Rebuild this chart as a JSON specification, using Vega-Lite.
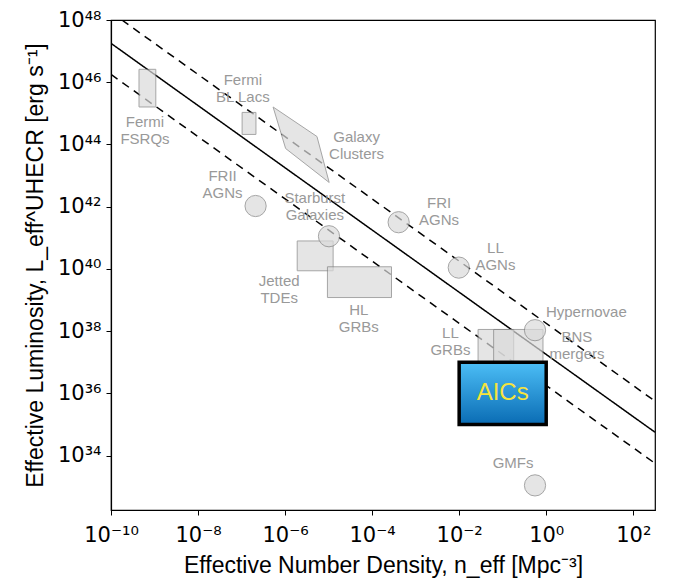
{
  "$schema": "https://vega.github.io/schema/vega-lite/v6.json",
  "autosize": {"type": "none"},
  "padding": {"left": 111, "top": 20, "right": 24, "bottom": 74},
  "width": 544,
  "height": 490,
  "background": "white",
  "config": {
    "view": {"stroke": "black", "strokeWidth": 1.2},
    "axis": {
      "grid": false,
      "domainColor": "black",
      "domainWidth": 1.2,
      "tickColor": "black",
      "tickSize": 5,
      "tickWidth": 1,
      "labelFont": "DejaVu Sans",
      "labelFontSize": 21,
      "labelColor": "black",
      "titleFont": "Liberation Sans",
      "titleFontSize": 23,
      "titleFontWeight": "normal",
      "titleColor": "black"
    }
  },
  "datasets": {
    "lines": [
      {"id": "s", "style": "solid", "x": 1e-10, "y": 1.778e47},
      {"id": "s", "style": "solid", "x": 316.23, "y": 5.623e34},
      {"id": "u", "style": "dashed", "x": 1.778e-10, "y": 1e48},
      {"id": "u", "style": "dashed", "x": 316.23, "y": 5.623e35},
      {"id": "l", "style": "dashed", "x": 1e-10, "y": 1.778e46},
      {"id": "l", "style": "dashed", "x": 316.23, "y": 5.623e33}
    ],
    "boxes": [
      {"name": "Fermi FSRQs", "x": 4.4e-10, "x2": 1.07e-9, "y": 1.6e45, "y2": 2.6e46},
      {"name": "Fermi BL Lacs", "x": 1.03e-7, "x2": 2.14e-7, "y": 2.1e44, "y2": 1.07e45},
      {"name": "Jetted TDEs", "x": 1.9e-6, "x2": 1.27e-5, "y": 8.7e39, "y2": 7.9e40},
      {"name": "HL GRBs", "x": 9.4e-6, "x2": 2.79e-4, "y": 1.2e39, "y2": 1.17e40},
      {"name": "LL GRBs", "x": 2.72e-2, "x2": 0.179, "y": 1e37, "y2": 1.13e38},
      {"name": "BNS mergers", "x": 6.2e-2, "x2": 0.843, "y": 1e37, "y2": 1.13e38}
    ],
    "cluster": [
      {"i": 0, "x": 5.3e-7, "y": 1.6e45},
      {"i": 1, "x": 5.4e-6, "y": 1.8e44},
      {"i": 2, "x": 1.03e-5, "y": 6e42},
      {"i": 3, "x": 1.03e-6, "y": 7.4e43},
      {"i": 4, "x": 5.3e-7, "y": 1.6e45}
    ],
    "circles": [
      {"name": "FRII AGNs", "x": 2.1e-7, "y": 1.05e42},
      {"name": "Starburst Galaxies", "x": 1.02e-5, "y": 1.12e41},
      {"name": "FRI AGNs", "x": 4.07e-4, "y": 3.16e41},
      {"name": "LL AGNs", "x": 9.8e-3, "y": 1.1e40},
      {"name": "Hypernovae", "x": 0.553, "y": 1.07e38},
      {"name": "GMFs", "x": 0.553, "y": 1.1e33}
    ],
    "labels": [
      {"label": "Fermi\nFSRQs", "rows": 2, "x": 6.04e-10, "y": 2.9e44},
      {"label": "Fermi\nBL Lacs", "rows": 2, "x": 1.07e-7, "y": 6.14e45},
      {"label": "Galaxy\nClusters", "rows": 2, "x": 4.39e-5, "y": 9.35e43},
      {"label": "FRII\nAGNs", "rows": 2, "x": 3.67e-8, "y": 5.25e42},
      {"label": "Starburst\nGalaxies", "rows": 2, "x": 4.83e-6, "y": 9.9e41},
      {"label": "FRI\nAGNs", "rows": 2, "x": 3.46e-3, "y": 6.86e41},
      {"label": "LL\nAGNs", "rows": 2, "x": 6.82e-2, "y": 2.45e40},
      {"label": "Jetted\nTDEs", "rows": 2, "x": 7.33e-7, "y": 2.21e39},
      {"label": "HL\nGRBs", "rows": 2, "x": 4.95e-5, "y": 2.48e38},
      {"label": "Hypernovae", "rows": 1, "x": 8.37, "y": 3.99e38},
      {"label": "BNS\nmergers", "rows": 2, "x": 5.09, "y": 3.37e37},
      {"label": "LL\nGRBs", "rows": 2, "x": 6.3e-3, "y": 4.67e37},
      {"label": "GMFs", "rows": 1, "x": 0.173, "y": 5.57e33}
    ],
    "aic": [
      {"label": "AICs", "x": 0.01, "x2": 1, "y": 1e35, "y2": 1e37, "cx": 0.1, "cy": 1e36}
    ]
  },
  "encoding": {
    "x": {
      "field": "x",
      "type": "quantitative",
      "scale": {"type": "log", "domain": [1e-10, 316.23], "nice": false},
      "axis": {
        "values": [1e-10, 1e-8, 1e-6, 1e-4, 1e-2, 1, 100],
        "labelExpr": "'10' + replace(replace(replace(replace(replace(replace(replace(replace(replace(replace(replace(toString(round(log(datum.value)/LN10)), regexp('-','g'), '⁻'), regexp('0','g'), '⁰'), regexp('1','g'), '¹'), regexp('2','g'), '²'), regexp('3','g'), '³'), regexp('4','g'), '⁴'), regexp('5','g'), '⁵'), regexp('6','g'), '⁶'), regexp('7','g'), '⁷'), regexp('8','g'), '⁸'), regexp('9','g'), '⁹')",
        "labelPadding": 9,
        "labelFlush": false,
        "labelOverlap": false,
        "title": "Effective Number Density, n_eff [Mpc⁻³]",
        "titlePadding": 9
      }
    },
    "y": {
      "field": "y",
      "type": "quantitative",
      "scale": {"type": "log", "domain": [1.778e32, 1e48], "nice": false},
      "axis": {
        "values": [1e34, 1e36, 1e38, 1e40, 1e42, 1e44, 1e46, 1e48],
        "labelExpr": "'10' + replace(replace(replace(replace(replace(replace(replace(replace(replace(replace(replace(toString(round(log(datum.value)/LN10)), regexp('-','g'), '⁻'), regexp('0','g'), '⁰'), regexp('1','g'), '¹'), regexp('2','g'), '²'), regexp('3','g'), '³'), regexp('4','g'), '⁴'), regexp('5','g'), '⁵'), regexp('6','g'), '⁶'), regexp('7','g'), '⁷'), regexp('8','g'), '⁸'), regexp('9','g'), '⁹')",
        "labelPadding": 5,
        "labelFlush": false,
        "labelOverlap": false,
        "title": "Effective Luminosity, L_eff^UHECR [erg s⁻¹]",
        "titlePadding": 10
      }
    }
  },
  "layer": [
    {
      "data": {"name": "lines"},
      "mark": {"type": "line", "color": "black", "strokeWidth": 1.5, "clip": true},
      "encoding": {
        "detail": {"field": "id"},
        "strokeDash": {
          "field": "style",
          "type": "nominal",
          "scale": {"domain": ["solid", "dashed"], "range": [[1, 0], [8, 6]]},
          "legend": null
        }
      }
    },
    {
      "data": {"name": "boxes"},
      "mark": {"type": "rect", "fill": "#dbdbdb", "stroke": "#808080", "strokeWidth": 1, "opacity": 0.7},
      "encoding": {
        "x2": {"field": "x2"},
        "y2": {"field": "y2"}
      }
    },
    {
      "data": {"name": "cluster"},
      "mark": {"type": "line", "fill": "#dbdbdb", "stroke": "#808080", "strokeWidth": 1, "opacity": 0.7},
      "encoding": {
        "order": {"field": "i", "type": "quantitative"}
      }
    },
    {
      "data": {"name": "circles"},
      "mark": {"type": "point", "shape": "circle", "filled": true, "fill": "#dbdbdb", "stroke": "#808080", "strokeWidth": 1, "size": 450, "opacity": 0.7}
    },
    {
      "data": {"name": "labels"},
      "transform": [{"filter": "datum.rows == 2"}],
      "mark": {"type": "text", "font": "Liberation Sans", "fontSize": 15, "color": "#999999", "lineHeight": 17, "lineBreak": "\n", "align": "center", "baseline": "middle", "dy": -8.5},
      "encoding": {
        "text": {"field": "label"}
      }
    },
    {
      "data": {"name": "labels"},
      "transform": [{"filter": "datum.rows == 1"}],
      "mark": {"type": "text", "font": "Liberation Sans", "fontSize": 15, "color": "#999999", "align": "center", "baseline": "middle"},
      "encoding": {
        "text": {"field": "label"}
      }
    },
    {
      "data": {"name": "aic"},
      "mark": {
        "type": "rect",
        "fill": {"gradient": "linear", "x1": 0, "y1": 0, "x2": 0, "y2": 1, "stops": [{"offset": 0, "color": "#4cbef6"}, {"offset": 1, "color": "#0a6cb4"}]},
        "stroke": "black",
        "strokeWidth": 3.5
      },
      "encoding": {
        "x2": {"field": "x2"},
        "y2": {"field": "y2"}
      }
    },
    {
      "data": {"name": "aic"},
      "mark": {"type": "text", "font": "Liberation Sans", "fontSize": 24, "color": "#f6e43c", "align": "center", "baseline": "middle"},
      "encoding": {
        "x": {"field": "cx", "type": "quantitative"},
        "y": {"field": "cy", "type": "quantitative"},
        "text": {"field": "label"}
      }
    }
  ]
}
